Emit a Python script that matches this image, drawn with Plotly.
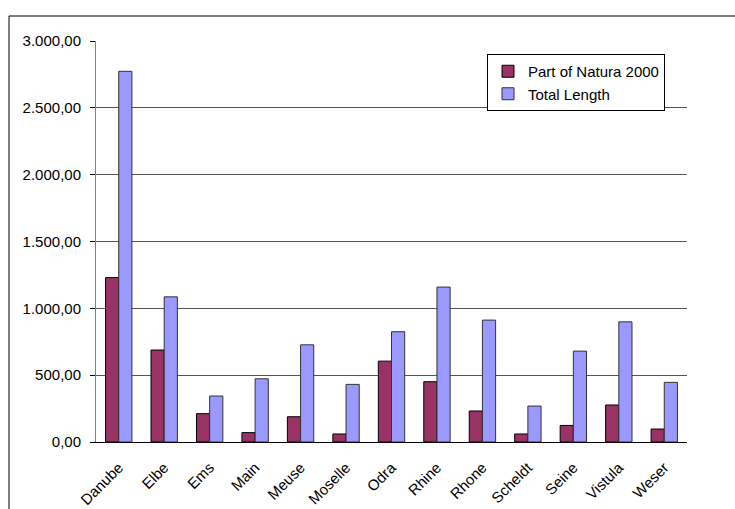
import plotly.graph_objects as go

rivers = ["Danube", "Elbe", "Ems", "Main", "Meuse", "Moselle", "Odra", "Rhine",
          "Rhone", "Scheldt", "Seine", "Vistula", "Weser"]
natura = [1230, 688, 212, 70, 189, 60, 605, 451, 232, 60, 124, 277, 97]
total = [2773, 1086, 344, 473, 727, 431, 825, 1159, 912, 269, 680, 899, 446]
y_ticks = [0, 500, 1000, 1500, 2000, 2500, 3000]

W, H = 735, 509
L, R, T, B = 96, 48, 41, 67
pw, ph = W - L - R, H - T - B

def px(x):
    return (x - L) / pw

def py(y):
    return (H - B - y) / ph

fig = go.Figure()
fig.add_trace(go.Bar(x=rivers, y=natura, name="Part of Natura 2000",
                     marker=dict(color="#993366", line=dict(color="#000000", width=1))))
fig.add_trace(go.Bar(x=rivers, y=total, name="Total Length",
                     marker=dict(color="#9999FF", line=dict(color="#333333", width=1))))

fig.update_layout(
    width=W, height=H,
    margin=dict(l=L, r=R, t=T, b=B, autoexpand=False),
    paper_bgcolor="white", plot_bgcolor="white",
    separators=",.",
    barmode="group", bargap=0.42, bargroupgap=0,
    font=dict(family="Arial, Liberation Sans, sans-serif", size=15, color="#000000"),
    showlegend=True,
    legend=dict(x=px(487), y=py(54), xanchor="left", yanchor="top",
                bordercolor="#000000", borderwidth=1, bgcolor="white",
                font=dict(size=15), tracegroupgap=0, itemwidth=30),
    xaxis=dict(showgrid=False, showline=True, linecolor="#000000", linewidth=1,
               ticks="", tickangle=-45, tickfont=dict(size=15), ticklabelstandoff=10),
    yaxis=dict(range=[0, 3000], tickvals=y_ticks, tickformat=",.2f",
               showgrid=True, gridcolor="#555555", gridwidth=1,
               showline=True, linecolor="#808080", linewidth=1,
               ticks="outside", ticklen=5, tickcolor="#000000",
               tickfont=dict(size=15), zeroline=False, ticklabelstandoff=6),
)

fig.add_shape(type="line", xref="paper", yref="paper",
              x0=px(9), x1=px(740), y0=py(16), y1=py(16),
              line=dict(color="#000000", width=1))
fig.add_shape(type="line", xref="paper", yref="paper",
              x0=px(9), x1=px(9), y0=py(16), y1=py(515),
              line=dict(color="#000000", width=1))

fig.write_html("out.html", config={"displayModeBar": False},
               post_script="document.body.style.margin='0';")
